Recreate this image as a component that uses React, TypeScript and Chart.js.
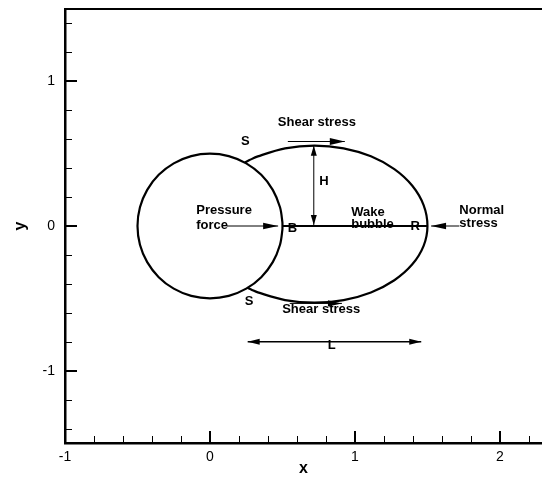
import React, { useEffect, useRef } from 'react';
import { Chart, registerables } from 'chart.js';

Chart.register(...registerables);

// Axis ranges and tick labels
const xRange = [-1, 2.29];
const yRange = [-1.5, 1.5];
const xTickLabels = [-1, 0, 1, 2];
const yTickLabels = [-1, 0, 1];
const minorStep = 0.2;

// Cylinder (circle of radius 0.5 at the origin)
const cylinderX = [0.5, 0.4993, 0.483, 0.433, 0.3536, 0.25, 0.1294, 0, -0.1294, -0.25, -0.3536, -0.433, -0.483, -0.5, -0.483, -0.433, -0.3536, -0.25, -0.1294, 0, 0.1294, 0.25, 0.3536, 0.433, 0.483, 0.4993, 0.5];
const cylinderY = [0, 0.0262, 0.1294, 0.25, 0.3536, 0.433, 0.483, 0.5, 0.483, 0.433, 0.3536, 0.25, 0.1294, 0, -0.1294, -0.25, -0.3536, -0.433, -0.483, -0.5, -0.483, -0.433, -0.3536, -0.25, -0.1294, -0.0262, 0];

// Wake bubble outline (from upper S round to lower S)
const bubbleX = [0.2398, 0.2726, 0.33, 0.5181, 0.72, 0.9219, 1.11, 1.2715, 1.3955, 1.4734, 1.5, 1.4734, 1.3955, 1.2715, 1.11, 0.9219, 0.72, 0.5181, 0.33, 0.2895, 0.2582];
const bubbleY = [0.4381, 0.4555, 0.4815, 0.537, 0.556, 0.537, 0.4815, 0.3931, 0.278, 0.1439, 0, -0.1372, -0.265, -0.3748, -0.459, -0.5119, -0.53, -0.5119, -0.459, -0.442, -0.4271];

// Centre line B-R
const centreLineX = [0.5, 1.5];
const centreLineY = [0, 0];

// Arrows
const pressureArrowX = [0.116, 0.47];
const pressureArrowY = [0, 0];
const normalArrowX = [1.72, 1.525];
const normalArrowY = [0, 0];
const topShearArrowX = [0.537, 0.93];
const topShearArrowY = [0.584, 0.584];
const bottomShearArrowX = [0.55, 0.91];
const bottomShearArrowY = [-0.535, -0.535];
const heightArrowX = [0.716, 0.716];
const heightArrowY = [0.007, 0.554];
const lengthArrowX = [0.26, 1.457];
const lengthArrowY = [-0.8, -0.8];

// Annotation texts
const labelTexts = ['Shear stress', 'S', 'H', 'Pressure', 'force', 'Wake', 'bubble', 'B', 'R', 'Normal', 'stress', 'S', 'Shear stress', 'L'];
const labelX = [0.737, 0.243, 0.786, -0.095, -0.095, 0.974, 0.974, 0.569, 1.416, 1.72, 1.72, 0.27, 0.767, 0.84];
const labelY = [0.688, 0.561, 0.283, 0.083, -0.021, 0.071, -0.016, -0.039, -0.028, 0.083, -0.01, -0.543, -0.6, -0.853];
const labelAlign = ['center', 'center', 'center', 'left', 'left', 'left', 'left', 'center', 'center', 'left', 'left', 'center', 'center', 'center'];

const FONT = '"Liberation Sans", Arial, Helvetica, sans-serif';

const pts = (xs: number[], ys: number[]) => xs.map((x, i) => ({ x, y: ys[i] }));

const curve = (xs: number[], ys: number[], width: number) => ({
  data: pts(xs, ys),
  showLine: true,
  borderColor: '#000',
  borderWidth: width,
  pointRadius: 0,
  tension: 0.34,
  fill: false,
});

const arrow = (xs: number[], ys: number[], width: number, head: number[], start: boolean, end: boolean) => ({
  data: pts(xs, ys),
  showLine: true,
  borderColor: '#000',
  borderWidth: width,
  pointRadius: 0,
  tension: 0,
  fill: false,
  arrowStart: start,
  arrowEnd: end,
  headLen: head[0],
  headHalf: head[1],
});

const decorPlugin = {
  id: 'decor',
  afterDatasetsDraw(chart: any) {
    const ctx = chart.ctx;
    const xs = chart.scales.x;
    const ys = chart.scales.y;

    // labels
    ctx.save();
    ctx.fillStyle = '#000';
    ctx.textBaseline = 'alphabetic';
    ctx.font = `bold 13px ${FONT}`;
    labelTexts.forEach((t, i) => {
      ctx.textAlign = labelAlign[i];
      ctx.fillText(t, xs.getPixelForValue(labelX[i]), ys.getPixelForValue(labelY[i]));
    });
    ctx.restore();

    // arrow heads
    ctx.save();
    ctx.fillStyle = '#000';
    chart.data.datasets.forEach((ds: any, i: number) => {
      if (!ds.arrowStart && !ds.arrowEnd) return;
      const meta = chart.getDatasetMeta(i);
      const p = meta.data;
      const head = (tip: any, from: any) => {
        const a = Math.atan2(tip.y - from.y, tip.x - from.x);
        const c = Math.cos(a), s = Math.sin(a);
        const bx = tip.x - ds.headLen * c, by = tip.y - ds.headLen * s;
        ctx.beginPath();
        ctx.moveTo(tip.x, tip.y);
        ctx.lineTo(bx - ds.headHalf * s, by + ds.headHalf * c);
        ctx.lineTo(bx + ds.headHalf * s, by - ds.headHalf * c);
        ctx.closePath();
        ctx.fill();
      };
      if (ds.arrowEnd) head(p[p.length - 1], p[p.length - 2]);
      if (ds.arrowStart) head(p[0], p[1]);
    });
    ctx.restore();
  },
  afterDraw(chart: any) {
    const ctx = chart.ctx;
    const xs = chart.scales.x;
    const ys = chart.scales.y;
    const area = chart.chartArea;
    ctx.save();
    ctx.strokeStyle = '#000';
    // top frame line
    ctx.lineWidth = 2;
    ctx.beginPath();
    ctx.moveTo(area.left, area.top);
    ctx.lineTo(area.right + 2, area.top);
    ctx.stroke();
    // inward ticks on x axis
    const isMajor = (v: number) => Math.abs(v - Math.round(v)) < 1e-6;
    for (let k = Math.ceil(xRange[0] / minorStep - 1e-6); k * minorStep <= xRange[1] + 1e-6; k++) {
      const v = k * minorStep;
      const major = isMajor(v);
      const px = Math.round(xs.getPixelForValue(v)) + (major ? 0 : 0.5);
      ctx.lineWidth = major ? 2 : 1;
      ctx.beginPath();
      ctx.moveTo(px, area.bottom);
      ctx.lineTo(px, area.bottom - (major ? 12 : 7));
      ctx.stroke();
    }
    // inward ticks on y axis
    for (let k = Math.ceil(yRange[0] / minorStep - 1e-6); k * minorStep <= yRange[1] + 1e-6; k++) {
      const v = k * minorStep;
      const major = isMajor(v);
      const py = Math.round(ys.getPixelForValue(v)) + (major ? 0 : 0.5);
      ctx.lineWidth = major ? 2 : 1;
      ctx.beginPath();
      ctx.moveTo(area.left, py);
      ctx.lineTo(area.left + (major ? 12 : 7), py);
      ctx.stroke();
    }
    ctx.restore();
  },
};

export default function App() {
  const ref = useRef<HTMLCanvasElement | null>(null);
  useEffect(() => {
    if (!ref.current) return;
    const chart = new Chart(ref.current, {
      type: 'scatter',
      data: {
        datasets: [
          curve(cylinderX, cylinderY, 2.2),
          curve(bubbleX, bubbleY, 2.2),
          curve(centreLineX, centreLineY, 2),
          arrow(pressureArrowX, pressureArrowY, 1, [15, 3.2], false, true),
          arrow(normalArrowX, normalArrowY, 1, [15, 3.2], false, true),
          arrow(topShearArrowX, topShearArrowY, 1, [15, 3.5], false, true),
          arrow(bottomShearArrowX, bottomShearArrowY, 1, [14, 3.2], false, true),
          arrow(heightArrowX, heightArrowY, 1, [10, 3], true, true),
          arrow(lengthArrowX, lengthArrowY, 1.3, [12, 3], true, true),
        ] as any,
      },
      options: {
        responsive: false,
        animation: false,
        layout: { padding: { top: 9, left: 0, right: 0, bottom: 0 } },
        plugins: { legend: { display: false }, tooltip: { enabled: false } },
        events: [],
        scales: {
          x: {
            type: 'linear',
            position: 'bottom',
            min: xRange[0],
            max: xRange[1],
            afterBuildTicks: (s: any) => { s.ticks = xTickLabels.map((v) => ({ value: v })); },
            afterFit: (s: any) => { s.height = 37; s.paddingLeft = 0; s.paddingRight = 0; },
            grid: { display: false, drawTicks: false },
            border: { display: true, color: '#000', width: 2.5 },
            ticks: {
              color: '#000',
              padding: 6,
              maxRotation: 0,
              autoSkip: false,
              font: { family: FONT, size: 14 },
              callback: (v: any) => String(v),
            },
            title: {
              display: true,
              text: 'x',
              color: '#000',
              font: { family: FONT, size: 16, weight: 'bold' },
              padding: { top: 0, bottom: 2 },
            },
          },
          y: {
            type: 'linear',
            position: 'left',
            min: yRange[0],
            max: yRange[1],
            afterBuildTicks: (s: any) => { s.ticks = yTickLabels.map((v) => ({ value: v })); },
            afterFit: (s: any) => { s.width = 65; s.paddingTop = 0; s.paddingBottom = 0; },
            grid: { display: false, drawTicks: false },
            border: { display: true, color: '#000', width: 2.5 },
            ticks: {
              color: '#000',
              padding: 10,
              autoSkip: false,
              font: { family: FONT, size: 14 },
              callback: (v: any) => String(v),
            },
            title: {
              display: true,
              text: 'y',
              color: '#000',
              font: { family: FONT, size: 16, weight: 'bold' },
              padding: { top: 11, bottom: 0 },
            },
          },
        },
      } as any,
      plugins: [decorPlugin],
    });
    return () => chart.destroy();
  }, []);
  return (
    <div style={{ position: 'fixed', left: 0, top: 0, width: 542, height: 480, background: '#fff', overflow: 'hidden' }}>
      <canvas ref={ref} width={542} height={480} style={{ display: 'block' }} />
    </div>
  );
}
